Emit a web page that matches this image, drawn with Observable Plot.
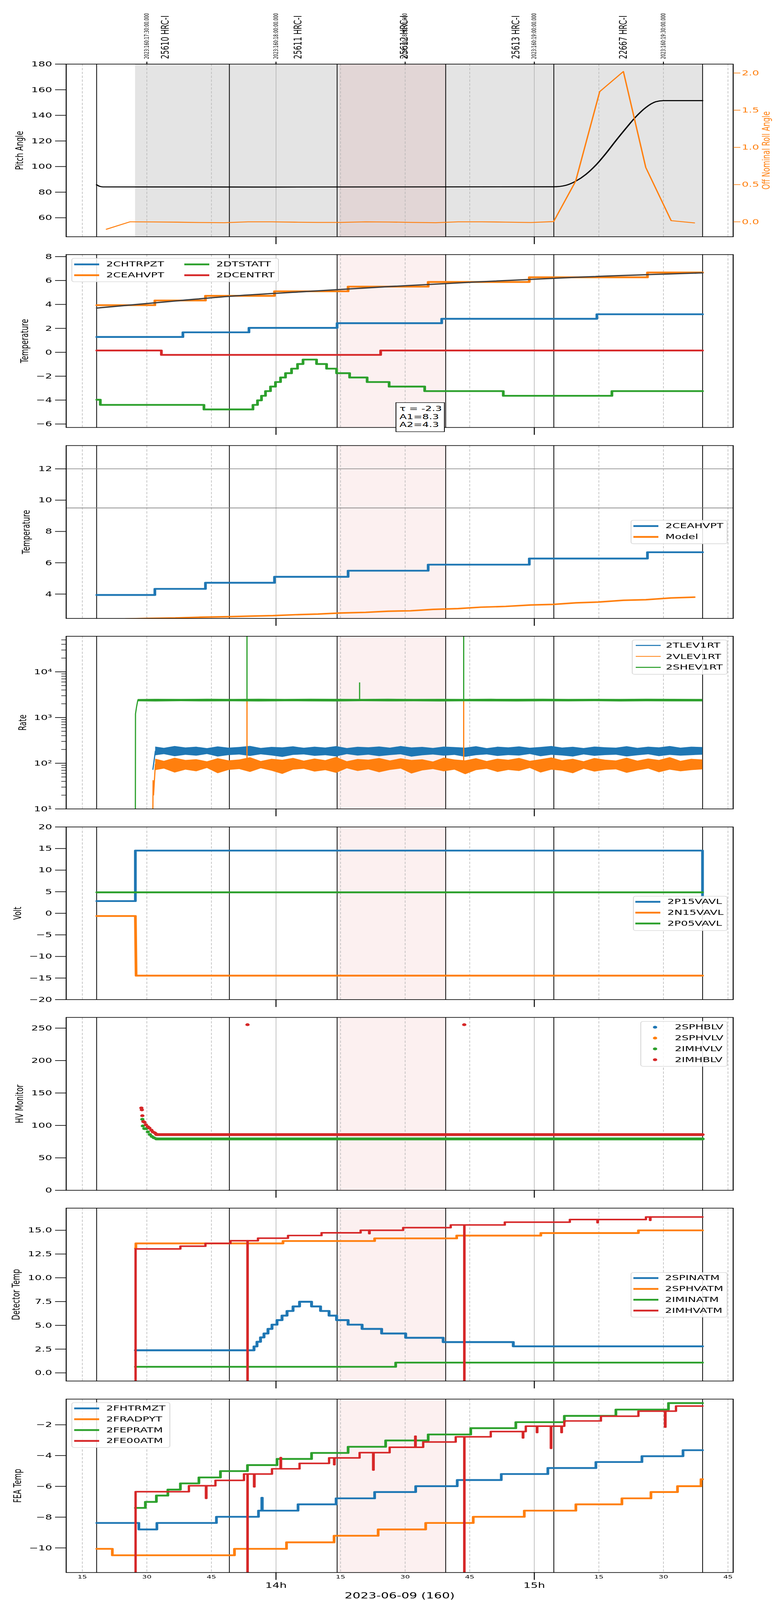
<!DOCTYPE html>
<html>
<head>
<meta charset="utf-8">
<script src="https://cdn.jsdelivr.net/npm/d3@7"></script>
<script src="https://cdn.jsdelivr.net/npm/@observablehq/plot@0.6"></script>
<style>
html,body{margin:0;padding:0;background:#fff;overflow:hidden;}
#page{position:relative;width:2000px;overflow:hidden;background:#fff;}
#fig{position:absolute;left:0;top:0;width:2000px;height:6200px;transform-origin:0 0;font-family:"DejaVu Sans",sans-serif;}
.leg{position:absolute;border:2px solid #d4d4d4;border-radius:7px;background:rgba(255,255,255,0.85);box-sizing:border-box;}
.leg .sw{position:absolute;width:64px;}
.leg .dt{position:absolute;width:11px;height:11px;border-radius:50%;}
.leg .lt{position:absolute;font-size:28px;line-height:28px;white-space:nowrap;color:#000;}
.note{position:absolute;border:2.5px solid #000;background:#fff;box-sizing:border-box;font-size:27px;line-height:31.5px;padding:6px 0 0 8px;white-space:pre;color:#000;}
</style>
</head>
<body>
<div id="page"><div id="fig"></div></div>
<script>
const BLUE = "#1f77b4", ORANGE = "#ff7f0e", GREEN = "#2ca02c", RED = "#d62728";

// ---- time axis: minutes after 13:00 local on 2023-06-09 ----
const xDomain = [11.26, 166.2];
const minorTicks = [15, 30, 45, 75, 90, 105, 135, 150, 165];
const hourTicks = [60, 120];
const obsBoundaries = [18.33, 49.17, 74.2, 99.42, 124.54, 159.1];
const maneuverBand = [27.3, 159.1];
const highlightBand = [74.2, 99.42];
const dateLabel = "2023-06-09 (160)";

// ---- top annotations ----
const utcTickTimes = [30, 60, 90, 120, 150];
const utcTickLabels = ["2023:160:17:30:00.000", "2023:160:18:00:00.000", "2023:160:18:30:00.000", "2023:160:19:00:00.000", "2023:160:19:30:00.000"];
const obsidTimes = [34.29, 65.13, 89.8, 115.75, 140.7];
const obsidLabels = ["25610 HRC-I", "25611 HRC-I", "25612 HRC-I", "25613 HRC-I", "22667 HRC-I"];

// ---- panel 1: pitch / roll ----
const pitchTicks = [60, 80, 100, 120, 140, 160, 180];
const rollTicks = [0, 0.5, 1.0, 1.5, 2.0];
const pitchTimes = [18.33, 19.0, 19.78, 60, 124.5, 127.4, 129.6, 132.0, 134.3, 136.6, 138.9, 141.3, 143.6, 145.9, 148.2, 150.0, 159.1];
const pitchValues = [85.8, 84.6, 84.1, 84.0, 84.2, 85.4, 88.5, 93.9, 101.1, 110.1, 120.0, 129.9, 138.9, 146.1, 150.6, 151.5, 151.5];
const rollTimes = [20.6, 26.1, 31.5, 37.0, 42.4, 48.0, 53.5, 59.0, 64.4, 69.8, 75.0, 80.8, 86.2, 91.6, 97.1, 102.3, 107.8, 113.3, 119.2, 124.5, 129.6, 135.2, 140.7, 145.9, 151.8, 157.2];
const rollValues = [-0.10, 0.0, -0.002, -0.005, -0.01, -0.012, 0.0, 0.0, -0.005, -0.008, -0.008, 0.0, -0.003, -0.008, -0.012, 0.0, 0.0, -0.004, -0.01, 0.003, 0.545, 1.75, 2.02, 0.73, 0.015, -0.015];

// ---- panel 2: temperatures ----
const p2Ticks = [-6, -4, -2, 0, 2, 4, 6, 8];
const chtrpztTimes = [18.37, 38.37, 53.72, 74.19, 98.49, 134.54, 159.08];
const chtrpztLevels = [1.28, 1.67, 2.04, 2.43, 2.80, 3.18];
const ceahvptTimes = [18.37, 31.86, 43.61, 59.65, 76.75, 95.35, 118.84, 146.29, 159.08];
const ceahvptLevels = [3.94, 4.33, 4.72, 5.10, 5.49, 5.88, 6.27, 6.67];
const dtstattTimes = [18.37, 19.19, 43.26, 54.65, 55.70, 56.63, 57.56, 58.72, 59.88, 61.05, 62.21, 63.61, 65.00, 66.28, 69.42, 71.75, 74.07, 77.10, 81.17, 86.28, 94.54, 112.80, 138.03, 159.08];
const dtstattLevels = [-3.97, -4.40, -4.78, -4.40, -4.02, -3.64, -3.25, -2.87, -2.49, -2.11, -1.75, -1.37, -0.98, -0.61, -0.98, -1.37, -1.75, -2.11, -2.49, -2.87, -3.25, -3.64, -3.25];
const dcentrtTimes = [18.37, 33.37, 84.31, 159.08];
const dcentrtLevels = [0.15, -0.22, 0.15];
const ceaFitTimes = [18.37, 37.79, 50.58, 68.03, 86.05, 106.40, 129.66, 159.08];
const ceaFitValues = [3.70, 4.33, 4.72, 5.10, 5.49, 5.88, 6.27, 6.64];
const fitNote = "τ = -2.3\nA1=8.3\nA2=4.3";

// ---- panel 3: 2CEAHVPT vs model ----
const p3Ticks = [4, 6, 8, 10, 12];
const p3Limits = [12, 9.5];
const modelTimes = [25.0, 30.0, 36.63, 42.44, 48.84, 54.07, 59.30, 64.54, 69.77, 75.00, 80.82, 86.05, 91.28, 96.52, 102.33, 107.56, 113.38, 119.19, 124.43, 129.66, 134.89, 140.71, 145.94, 151.75, 157.21];
const modelValues = [2.40, 2.44, 2.47, 2.52, 2.55, 2.59, 2.62, 2.68, 2.72, 2.79, 2.83, 2.90, 2.93, 3.02, 3.07, 3.16, 3.21, 3.30, 3.34, 3.44, 3.49, 3.60, 3.64, 3.75, 3.80];

// ---- panel 4: rates (log) ----
const rateTicks = [10, 100, 1000, 10000];
const rateTickLabels = ["10¹", "10²", "10³", "10⁴"];
const rateMinorTicks = [20, 30, 40, 50, 60, 70, 80, 90, 200, 300, 400, 500, 600, 700, 800, 900, 2000, 3000, 4000, 5000, 6000, 7000, 8000, 9000, 20000, 30000, 40000, 50000];
const bandTimes = [31.98, 34, 36.5, 39, 41.5, 44, 46.5, 49, 51.5, 54, 56.5, 59, 61.5, 64, 66.5, 69, 71.5, 74, 76.5, 79, 81.5, 84, 86.5, 89, 91.5, 94, 96.5, 99, 101.5, 104, 106.5, 109, 111.5, 114, 116.5, 119, 121.5, 124, 126.5, 129, 131.5, 134, 136.5, 139, 141.5, 144, 146.5, 149, 151.5, 154, 156.5, 159.08];
const tlevHigh = [230, 215, 236, 220, 228, 212, 232, 218, 225, 238, 214, 226, 221, 233, 216, 229, 219, 235, 213, 227, 222, 231, 217, 236, 220, 226, 214, 230, 224, 218, 234, 212, 228, 221, 232, 216, 225, 237, 219, 227, 213, 230, 222, 218, 234, 215, 228, 221, 236, 217, 229, 224];
const tlevLow = [148, 157, 141, 152, 145, 158, 139, 150, 154, 143, 156, 147, 136, 151, 155, 144, 149, 140, 157, 146, 153, 142, 150, 156, 138, 148, 154, 145, 151, 137, 149, 155, 143, 150, 146, 158, 141, 152, 147, 139, 155, 144, 150, 153, 140, 148, 156, 142, 151, 145, 149, 153];
const vlevHigh = [125, 112, 131, 117, 122, 109, 128, 115, 120, 134, 111, 124, 118, 130, 113, 126, 116, 136, 110, 123, 119, 129, 114, 127, 117, 121, 108, 132, 120, 115, 128, 111, 125, 118, 130, 112, 122, 133, 116, 124, 110, 129, 119, 114, 131, 113, 126, 117, 135, 112, 124, 120];
const vlevLow = [70, 76, 62, 72, 66, 78, 60, 71, 74, 64, 77, 68, 58, 72, 75, 65, 70, 61, 77, 67, 73, 63, 71, 76, 59, 69, 74, 66, 72, 57, 70, 75, 64, 71, 67, 78, 62, 72, 68, 60, 75, 65, 71, 73, 61, 69, 76, 63, 72, 66, 70, 73];
const shevTimes = [27.9, 32, 38, 44, 50, 56, 62, 68, 74, 80, 86, 92, 98, 104, 110, 116, 122, 128, 134, 140, 146, 152, 159.08];
const shevLow = [2250, 2230, 2260, 2240, 2255, 2235, 2250, 2245, 2230, 2260, 2240, 2250, 2235, 2255, 2245, 2230, 2250, 2240, 2260, 2235, 2250, 2245, 2240];
const shevHigh = [2520, 2550, 2530, 2560, 2540, 2555, 2530, 2565, 2545, 2535, 2560, 2540, 2550, 2530, 2555, 2545, 2560, 2535, 2550, 2540, 2565, 2545, 2530];
const shevStartTimes = [27.33, 27.36, 27.6, 27.9];
const shevStartValues = [10, 1200, 1700, 2400];
const tlevStartTimes = [31.40, 31.98];
const tlevStartValues = [73, 185];
const vlevStartTimes = [31.40, 31.45, 31.55, 31.98];
const vlevStartValues = [10, 42, 20, 95];
const shevSpikeTimes = [53.26, 79.42, 103.6];
const shevSpikeBase = [2400, 2400, 2400];
const shevSpikeTop = [60000, 5830, 60000];
const vlevSpikeTimes = [53.26, 103.6];
const vlevSpikeBase = [95, 95];
const vlevSpikeTop = [2400, 2400];

// ---- panel 5: voltages ----
const voltTicks = [-20, -15, -10, -5, 0, 5, 10, 15, 20];
const p15Times = [18.37, 27.33, 27.33, 159.08, 159.08];
const p15Values = [2.83, 2.83, 14.53, 14.53, 3.8];
const n15Times = [18.37, 27.33, 27.5, 159.08];
const n15Values = [-0.63, -0.63, -14.45, -14.45];
const p05Times = [18.37, 159.08];
const p05Values = [4.86, 4.86];

// ---- panel 6: HV monitor ----
const hvTicks = [0, 50, 100, 150, 200, 250];
const imhblvDotTimes = [28.72, 28.84, 28.95, 29.19, 29.42, 29.77, 30.23, 30.58, 31.05, 31.40, 31.86, 32.21, 53.38, 103.73];
const imhblvDotValues = [127, 124, 115, 106, 105, 101, 98, 96, 92.8, 90, 88.5, 86.6, 255.3, 255.3];
const imhblvRunTimes = [32.21, 159.08];
const imhblvRunValues = [85.9, 85.9];
const imhvlvDotTimes = [28.95, 29.07, 29.42, 29.88, 30.23, 30.70, 31.16, 31.63, 32.21];
const imhvlvDotValues = [109.5, 99.2, 95.1, 95, 90, 86, 83, 81, 79.5];
const imhvlvRunTimes = [32.21, 159.08];
const imhvlvRunValues = [79.2, 79.2];

// ---- panel 7: detector temps ----
const detTicks = [0, 2.5, 5, 7.5, 10, 12.5, 15];
const spinatmTimes = [27.33, 54.89, 55.58, 56.40, 57.21, 58.14, 59.07, 60.23, 61.40, 62.56, 63.96, 65.47, 68.26, 70.35, 72.33, 74.07, 76.75, 80.00, 84.54, 90.12, 98.84, 115.12, 159.08];
const spinatmLevels = [2.37, 2.78, 3.27, 3.73, 4.14, 4.62, 5.07, 5.55, 6.02, 6.51, 6.99, 7.48, 6.99, 6.51, 6.02, 5.55, 5.07, 4.62, 4.14, 3.69, 3.24, 2.79];
const sphvatmTimes = [27.33, 27.45, 61.63, 82.91, 101.98, 121.52, 144.19, 159.08];
const sphvatmLevels = [13.1, 13.62, 13.87, 14.15, 14.44, 14.71, 14.99];
const iminatmTimes = [27.33, 87.80, 159.08];
const iminatmLevels = [0.64, 1.08];
const imhvatmTimes = [27.33, 27.38, 37.79, 43.61, 49.42, 53.37, 53.42, 55.81, 62.79, 70.58, 79.66, 81.63, 81.75, 89.54, 100.59, 103.73, 103.78, 113.15, 128.26, 134.66, 134.78, 145.94, 146.87, 146.99, 159.08];
const imhvatmLevels = [-60, 13.04, 13.33, 13.62, 13.90, -60, 13.90, 14.17, 14.45, 14.73, 15.00, 14.65, 15.00, 15.28, 15.56, -60, 15.56, 15.85, 16.13, 15.80, 16.13, 16.40, 16.05, 16.40];

// ---- panel 8: FEA temps ----
const feaTicks = [-10, -8, -6, -4, -2];
const fhtrmztTimes = [18.37, 28.14, 32.33, 46.16, 55.93, 56.70, 56.82, 65.12, 73.96, 82.91, 92.45, 102.10, 112.33, 123.15, 134.31, 145.01, 154.55, 159.08];
const fhtrmztLevels = [-8.38, -8.80, -8.38, -7.98, -7.58, -6.74, -7.58, -7.17, -6.78, -6.37, -5.99, -5.59, -5.20, -4.81, -4.42, -4.04, -3.65];
const fradpytTimes = [18.37, 21.98, 50.35, 62.44, 73.49, 83.73, 94.77, 105.82, 117.68, 129.66, 140.36, 147.10, 153.27, 158.73, 159.08];
const fradpytLevels = [-10.06, -10.48, -10.06, -9.64, -9.21, -8.80, -8.38, -7.98, -7.58, -7.17, -6.78, -6.37, -5.99, -5.54];
const fepratmTimes = [27.33, 29.65, 32.21, 34.88, 37.79, 42.09, 47.09, 53.37, 60.23, 68.26, 76.75, 85.47, 95.35, 105.24, 115.71, 126.98, 138.96, 151.17, 159.08];
const fepratmLevels = [-7.40, -7.01, -6.60, -6.21, -5.81, -5.42, -5.01, -4.62, -4.22, -3.83, -3.43, -3.02, -2.63, -2.22, -1.83, -1.42, -1.01, -0.59];
const fe00atmTimes = [27.33, 27.38, 39.77, 43.72, 43.84, 45.93, 52.56, 53.37, 53.42, 54.89, 55.01, 59.07, 61.05, 61.17, 65.47, 72.33, 73.49, 73.61, 79.42, 82.56, 82.68, 86.40, 92.33, 92.45, 94.19, 101.75, 103.73, 103.78, 109.89, 117.33, 117.45, 118.03, 120.59, 120.71, 123.84, 123.96, 126.29, 126.41, 126.98, 135.48, 144.19, 150.36, 150.48, 152.92, 159.08];
const fe00atmLevels = [-60, -6.35, -5.96, -6.78, -5.96, -5.61, -5.20, -60, -5.20, -6.03, -5.20, -4.86, -4.13, -4.86, -4.51, -4.15, -4.59, -4.15, -3.81, -4.94, -3.81, -3.46, -2.74, -3.46, -3.12, -2.78, -60, -2.78, -2.44, -2.85, -2.44, -2.09, -2.50, -2.09, -3.53, -2.09, -2.50, -2.09, -1.75, -1.44, -1.11, -2.15, -1.11, -0.78];

// ---- legends ----
const p2LegendNames = ["2CHTRPZT", "2CEAHVPT", "2DTSTATT", "2DCENTRT"];
const p3LegendNames = ["2CEAHVPT", "Model"];
const p4LegendNames = ["2TLEV1RT", "2VLEV1RT", "2SHEV1RT"];
const p5LegendNames = ["2P15VAVL", "2N15VAVL", "2P05VAVL"];
const p6LegendNames = ["2SPHBLV", "2SPHVLV", "2IMHVLV", "2IMHBLV"];
const p7LegendNames = ["2SPINATM", "2SPHVATM", "2IMINATM", "2IMHVATM"];
const p8LegendNames = ["2FHTRMZT", "2FRADPYT", "2FEPRATM", "2FE00ATM"];
const palette = [BLUE, ORANGE, GREEN, RED];

// ===================== rendering =====================
const FIG_W = 2000, FIG_H = 6200;
const page = document.getElementById("page");
const fig = document.getElementById("fig");
// the window may be shorter than the 6200 px figure: fit the whole figure into it
const viewH = Math.min(FIG_H, window.innerHeight || FIG_H);
const sy = viewH / FIG_H;
page.style.height = viewH + "px";
if (sy < 1) fig.style.transform = `scale(1, ${sy})`;

const frames = [[248, 917], [986, 1656], [1726, 2396], [2465, 3134], [3204, 3873], [3942, 4612], [4681, 5351], [5421, 6093]];
const STYLE = {fontFamily: '"DejaVu Sans", sans-serif', fontSize: "28px", background: "transparent", overflow: "visible", color: "#000"};
const PITCH_AT_ROLL0 = 56.85, PITCH_PER_ROLL = 58.11;
const rollToPitch = r => PITCH_AT_ROLL0 + r * PITCH_PER_ROLL;
const minus = d => (d < 0 ? "\u2212" : "") + Math.abs(d);

function pts(times, values) { return times.map((t, i) => ({t, v: values[i]})); }
function steps(times, levels) {
  const out = levels.map((v, i) => ({t: times[i], v}));
  out.push({t: times[times.length - 1], v: levels[levels.length - 1]});
  return out;
}
function band(times, lo, hi) { return times.map((t, i) => ({t, lo: lo[i], hi: hi[i]})); }

function bgMarks(ydom, pinkStart) {
  return [
    Plot.rect([{a: pinkStart ?? highlightBand[0], b: highlightBand[1]}], {x1: "a", x2: "b", y1: () => ydom[0], y2: () => ydom[1], fill: RED, fillOpacity: 0.07}),
    Plot.ruleX(minorTicks, {stroke: "#b5b5b5", strokeWidth: 1.5, strokeDasharray: "9,6"}),
    Plot.ruleX(hourTicks, {stroke: "#b0b0b0", strokeWidth: 1.5}),
    Plot.ruleX(obsBoundaries, {stroke: "#000", strokeWidth: 2})
  ];
}
function yAxis(ticks, fmt) {
  return Plot.axisY({ticks, tickFormat: fmt || minus, tickSize: 28, tickPadding: 8, strokeWidth: 2.5, fontSize: 28, label: null});
}
function hourAxis() {
  return Plot.axisX({ticks: hourTicks, tickSize: 29, strokeWidth: 2.5, tickFormat: () => "", label: null});
}
function yLabel(text, dx) {
  return Plot.text([text], {text: d => d, frameAnchor: "left", dx, rotate: -90, fontSize: 27, textAnchor: "middle", lineAnchor: "middle"});
}
function frameMark() { return Plot.frame({stroke: "#000", strokeWidth: 2.5}); }
function stepLine(data, color, w = 7) {
  return Plot.line(data, {x: "t", y: "v", stroke: color, strokeWidth: w, curve: "step-after", strokeLinejoin: "round", clip: true});
}
function plainLine(data, color, w = 7, curve = "linear") {
  return Plot.line(data, {x: "t", y: "v", stroke: color, strokeWidth: w, curve, strokeLinejoin: "round", clip: true});
}

function panel(idx, y, marks, mt = 10, mb = 40) {
  const [top, bottom] = frames[idx];
  const svg = Plot.plot({
    width: FIG_W, height: bottom - top + mt + mb,
    marginLeft: 169, marginRight: 123, marginTop: mt, marginBottom: mb,
    x: {domain: xDomain, axis: null},
    y: {...y, axis: null},
    style: STYLE,
    marks
  });
  svg.style.position = "absolute";
  svg.style.left = "0px";
  svg.style.top = (top - mt) + "px";
  svg.style.maxWidth = "none";
  fig.appendChild(svg);
}

function legend({left, top, width, height, r0, rs, names, colors, kind = "line", lw = 7, cols = 1, colGap = 282, swX = 7, txtX = 89, dotX = 37}) {
  const box = document.createElement("div");
  box.className = "leg";
  Object.assign(box.style, {left: left + "px", top: top + "px", width: width + "px", height: height + "px"});
  const perCol = Math.ceil(names.length / cols);
  names.forEach((name, i) => {
    const c = Math.floor(i / perCol), r = i % perCol;
    const cy = r0 + r * rs, ox = c * colGap;
    const m = document.createElement("div");
    if (kind === "line") {
      m.className = "sw";
      Object.assign(m.style, {left: (swX + ox - 2) + "px", top: (cy - lw / 2 - 2) + "px", height: lw + "px", background: colors[i]});
    } else {
      m.className = "dt";
      Object.assign(m.style, {left: (dotX + ox - 2 - 5.5) + "px", top: (cy - 2 - 5.5) + "px", background: colors[i]});
    }
    box.appendChild(m);
    const t = document.createElement("div");
    t.className = "lt";
    t.textContent = name;
    Object.assign(t.style, {left: (txtX + ox - 2) + "px", top: (cy - 14 - 2) + "px"});
    box.appendChild(t);
  });
  fig.appendChild(box);
}

// ---------- Panel 1 ----------
{
  const ydom = [45.15, 180];
  const utcData = utcTickTimes.map((t, i) => ({t, s: utcTickLabels[i]}));
  const obsData = obsidTimes.map((t, i) => ({t, s: obsidLabels[i]}));
  panel(0, {domain: ydom}, [
    Plot.rect([{a: maneuverBand[0], b: maneuverBand[1]}], {x1: "a", x2: "b", y1: () => ydom[0], y2: () => ydom[1], fill: "#e4e4e4"}),
    ...bgMarks(ydom, 74.75),
    plainLine(pts(pitchTimes, pitchValues), "#000", 4, "monotone-x"),
    Plot.line(pts(rollTimes, rollValues), {x: "t", y: d => rollToPitch(d.v), stroke: ORANGE, strokeWidth: 3.5, strokeLinejoin: "round", clip: true}),
    frameMark(),
    yAxis(pitchTicks),
    Plot.axisY({anchor: "right", ticks: rollTicks.map(rollToPitch), tickFormat: d => { const r = (d - PITCH_AT_ROLL0) / PITCH_PER_ROLL; return (Math.abs(r) < 1e-6 ? 0 : r).toFixed(1); }, color: ORANGE, tickSize: 18, tickPadding: 4, strokeWidth: 2.5, fontSize: 28, label: null}),
    hourAxis(),
    Plot.axisX({anchor: "top", ticks: utcTickTimes, tickSize: 10, strokeWidth: 2.5, tickFormat: () => "", label: null}),
    Plot.text(utcData, {x: "t", text: "s", frameAnchor: "top", dy: -20, rotate: -90, textAnchor: "start", lineAnchor: "middle", fontSize: 15}),
    Plot.text(obsData, {x: "t", text: "s", frameAnchor: "top", dy: -20, rotate: -90, textAnchor: "start", lineAnchor: "middle", fontSize: 27}),
    yLabel("Pitch Angle", -119),
    Plot.text(["Off Nominal Roll Angle"], {text: d => d, frameAnchor: "right", dx: 85, rotate: -90, fontSize: 27, fill: ORANGE, textAnchor: "middle", lineAnchor: "middle"})
  ], 248, 40);
}

// ---------- Panel 2 ----------
{
  const ydom = [-6.29, 8.17];
  panel(1, {domain: ydom}, [
    ...bgMarks(ydom),
    stepLine(steps(chtrpztTimes, chtrpztLevels), BLUE),
    stepLine(steps(ceahvptTimes, ceahvptLevels), ORANGE),
    stepLine(steps(dtstattTimes, dtstattLevels), GREEN),
    stepLine(steps(dcentrtTimes, dcentrtLevels), RED),
    plainLine(pts(ceaFitTimes, ceaFitValues), "#404040", 5, "monotone-x"),
    frameMark(),
    yAxis(p2Ticks),
    hourAxis(),
    yLabel("Temperature", -106)
  ]);
  legend({left: 183, top: 1000, width: 531, height: 93, r0: 24, rs: 42, names: p2LegendNames, colors: palette, cols: 2});
  const note = document.createElement("div");
  note.className = "note";
  note.textContent = fitNote;
  Object.assign(note.style, {left: "1013px", top: "1559px", width: "126px", height: "115px"});
  fig.appendChild(note);
}

// ---------- Panel 3 ----------
{
  const ydom = [2.44, 13.49];
  panel(2, {domain: ydom}, [
    ...bgMarks(ydom),
    Plot.ruleY(p3Limits, {stroke: "#808080", strokeWidth: 2.5}),
    stepLine(steps(ceahvptTimes, ceahvptLevels), BLUE),
    plainLine(pts(modelTimes, modelValues), ORANGE, 6),
    frameMark(),
    yAxis(p3Ticks),
    hourAxis(),
    yLabel("Temperature", -102)
  ]);
  legend({left: 1615, top: 2015, width: 248, height: 93, r0: 23, rs: 42, names: p3LegendNames, colors: [BLUE, ORANGE]});
}

// ---------- Panel 4 ----------
{
  const ydom = [10, 60000];
  panel(3, {type: "log", domain: ydom}, [
    ...bgMarks(ydom),
    Plot.areaY(band(bandTimes, tlevLow, tlevHigh), {x: "t", y1: "lo", y2: "hi", fill: BLUE, clip: true}),
    plainLine(pts(tlevStartTimes, tlevStartValues), BLUE, 3),
    Plot.areaY(band(bandTimes, vlevLow, vlevHigh), {x: "t", y1: "lo", y2: "hi", fill: ORANGE, clip: true}),
    plainLine(pts(vlevStartTimes, vlevStartValues), ORANGE, 3),
    Plot.ruleX(vlevSpikeTimes.map((t, i) => ({t, a: vlevSpikeBase[i], b: vlevSpikeTop[i]})), {x: "t", y1: "a", y2: "b", stroke: ORANGE, strokeWidth: 3, clip: true}),
    Plot.areaY(band(shevTimes, shevLow, shevHigh), {x: "t", y1: "lo", y2: "hi", fill: GREEN, clip: true}),
    plainLine(pts(shevStartTimes, shevStartValues), GREEN, 3),
    Plot.ruleX(shevSpikeTimes.map((t, i) => ({t, a: shevSpikeBase[i], b: shevSpikeTop[i]})), {x: "t", y1: "a", y2: "b", stroke: GREEN, strokeWidth: 3, clip: true}),
    frameMark(),
    yAxis(rateTicks, d => rateTickLabels[rateTicks.indexOf(d)]),
    Plot.axisY({ticks: rateMinorTicks, tickSize: 12, strokeWidth: 2, tickFormat: () => "", label: null}),
    hourAxis(),
    yLabel("Rate", -111)
  ]);
  legend({left: 1618, top: 2479, width: 245, height: 135, r0: 22, rs: 42.5, names: p4LegendNames, colors: palette, lw: 3.5, swX: 10, txtX: 87});
}

// ---------- Panel 5 ----------
{
  const ydom = [-20, 20];
  panel(4, {domain: ydom}, [
    ...bgMarks(ydom),
    plainLine(pts(p15Times, p15Values), BLUE, 7),
    plainLine(pts(n15Times, n15Values), ORANGE, 7),
    plainLine(pts(p05Times, p05Values), GREEN, 7),
    frameMark(),
    yAxis(voltTicks),
    hourAxis(),
    yLabel("Volt", -124)
  ]);
  legend({left: 1621, top: 3472, width: 242, height: 135, r0: 22, rs: 42, names: p5LegendNames, colors: palette, swX: 6, txtX: 88});
}

// ---------- Panel 6 ----------
{
  const ydom = [0, 266.5];
  panel(5, {domain: ydom}, [
    ...bgMarks(ydom),
    Plot.line(pts(imhvlvRunTimes, imhvlvRunValues), {x: "t", y: "v", stroke: GREEN, strokeWidth: 11, strokeLinecap: "round", clip: true}),
    Plot.dot(pts(imhvlvDotTimes, imhvlvDotValues), {x: "t", y: "v", r: 5.5, fill: GREEN, clip: true}),
    Plot.line(pts(imhblvRunTimes, imhblvRunValues), {x: "t", y: "v", stroke: RED, strokeWidth: 11, strokeLinecap: "round", clip: true}),
    Plot.dot(pts(imhblvDotTimes, imhblvDotValues), {x: "t", y: "v", r: 5.5, fill: RED, clip: true}),
    frameMark(),
    yAxis(hvTicks),
    hourAxis(),
    yLabel("HV Monitor", -119)
  ]);
  legend({left: 1640, top: 3957, width: 223, height: 176, r0: 23, rs: 42, names: p6LegendNames, colors: palette, kind: "dot", dotX: 37, txtX: 88});
}

// ---------- Panel 7 ----------
{
  const ydom = [-0.86, 17.33];
  panel(6, {domain: ydom}, [
    ...bgMarks(ydom),
    stepLine(steps(spinatmTimes, spinatmLevels), BLUE, 7.5),
    stepLine(steps(sphvatmTimes, sphvatmLevels), ORANGE),
    stepLine(steps(iminatmTimes, iminatmLevels), GREEN),
    stepLine(steps(imhvatmTimes, imhvatmLevels), RED, 6),
    frameMark(),
    yAxis(detTicks, d => d.toFixed(1)),
    hourAxis(),
    yLabel("Detector Temp", -128)
  ]);
  legend({left: 1615, top: 4930, width: 248, height: 175, r0: 22, rs: 42, names: p7LegendNames, colors: palette, txtX: 88});
}

// ---------- Panel 8 ----------
{
  const ydom = [-11.6, -0.33];
  panel(7, {domain: ydom}, [
    ...bgMarks(ydom),
    stepLine(steps(fhtrmztTimes, fhtrmztLevels), BLUE),
    stepLine(steps(fradpytTimes, fradpytLevels), ORANGE),
    stepLine(steps(fepratmTimes, fepratmLevels), GREEN),
    stepLine(steps(fe00atmTimes, fe00atmLevels), RED, 6),
    frameMark(),
    yAxis(feaTicks),
    Plot.axisX({ticks: minorTicks, tickSize: 0, tickPadding: 9, fontSize: 19, tickFormat: d => String(d % 60), label: null}),
    Plot.axisX({ticks: hourTicks, tickSize: 29, tickPadding: 10, strokeWidth: 2.5, fontSize: 29, tickFormat: d => (13 + d / 60) + "h", label: null}),
    Plot.text([dateLabel], {text: d => d, frameAnchor: "bottom", dy: 90, fontSize: 32, lineAnchor: "middle"}),
    yLabel("FEA Temp", -124)
  ], 10, 107);
  legend({left: 183, top: 5434, width: 253, height: 176, r0: 23, rs: 42, names: p8LegendNames, colors: palette});
}
</script>
</body>
</html>
